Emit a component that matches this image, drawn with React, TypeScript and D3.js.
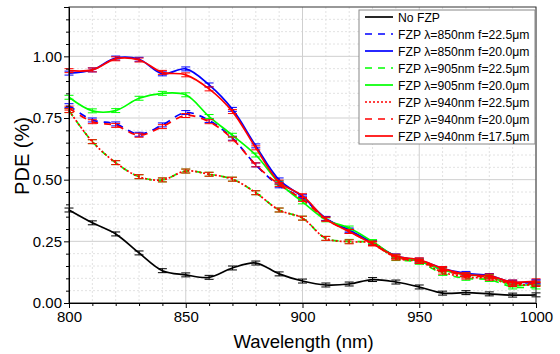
import * as d3 from "d3";
import { useEffect, useRef } from "react";

const wavelengths = [800, 810, 820, 830, 840, 850, 860, 870, 880, 890, 900, 910, 920, 930, 940, 950, 960, 970, 980, 990, 1000];

const noFzp = [0.377, 0.325, 0.28, 0.203, 0.131, 0.114, 0.104, 0.142, 0.162, 0.118, 0.089, 0.073, 0.077, 0.095, 0.085, 0.065, 0.04, 0.042, 0.037, 0.032, 0.033];
const fzp850f225 = [0.8, 0.742, 0.726, 0.684, 0.722, 0.772, 0.74, 0.668, 0.56, 0.475, 0.425, 0.342, 0.292, 0.242, 0.19, 0.17, 0.136, 0.116, 0.11, 0.082, 0.085];
const fzp850f200 = [0.932, 0.945, 0.993, 0.988, 0.929, 0.949, 0.884, 0.785, 0.637, 0.499, 0.431, 0.343, 0.296, 0.245, 0.19, 0.174, 0.14, 0.12, 0.111, 0.085, 0.086];
const fzp905f225 = [0.78, 0.654, 0.569, 0.512, 0.499, 0.535, 0.522, 0.502, 0.447, 0.377, 0.344, 0.262, 0.25, 0.243, 0.18, 0.165, 0.12, 0.1, 0.095, 0.065, 0.065];
const fzp905f200 = [0.834, 0.779, 0.78, 0.83, 0.85, 0.844, 0.756, 0.68, 0.6, 0.487, 0.41, 0.337, 0.304, 0.249, 0.188, 0.17, 0.134, 0.114, 0.107, 0.073, 0.078];
const fzp940f225 = [0.78, 0.654, 0.569, 0.512, 0.499, 0.535, 0.522, 0.502, 0.447, 0.377, 0.344, 0.262, 0.248, 0.243, 0.182, 0.168, 0.125, 0.105, 0.1, 0.075, 0.075];
const fzp940f200 = [0.79, 0.735, 0.72, 0.68, 0.715, 0.76, 0.735, 0.665, 0.56, 0.48, 0.42, 0.34, 0.29, 0.24, 0.186, 0.17, 0.135, 0.11, 0.105, 0.08, 0.08];
const fzp940f175 = [0.942, 0.945, 0.99, 0.985, 0.935, 0.925, 0.868, 0.776, 0.629, 0.49, 0.435, 0.34, 0.29, 0.24, 0.19, 0.175, 0.14, 0.115, 0.11, 0.085, 0.09];

const series = [
  { name: "No FZP", values: noFzp, color: "#000000", dash: "" },
  { name: "FZP λ=850nm f=22.5μm", values: fzp850f225, color: "#0000ff", dash: "7,6" },
  { name: "FZP λ=850nm f=20.0μm", values: fzp850f200, color: "#0000ff", dash: "" },
  { name: "FZP λ=905nm f=22.5μm", values: fzp905f225, color: "#00ff00", dash: "7,6" },
  { name: "FZP λ=905nm f=20.0μm", values: fzp905f200, color: "#00ff00", dash: "" },
  { name: "FZP λ=940nm f=22.5μm", values: fzp940f225, color: "#ff0000", dash: "2,2" },
  { name: "FZP λ=940nm f=20.0μm", values: fzp940f200, color: "#ff0000", dash: "7,6" },
  { name: "FZP λ=940nm f=17.5μm", values: fzp940f175, color: "#ff0000", dash: "" },
];

const yTicks = [0, 0.25, 0.5, 0.75, 1.0];
const xTicks = [800, 850, 900, 950, 1000];
const err = 0.008;

export default function App() {
  const svgRef = useRef<SVGSVGElement>(null);
  const w = 560;
  const h = 354;
  const margin = { top: 7, right: 24, bottom: 51, left: 69 };

  useEffect(() => {
    if (!svgRef.current) return;
    const innerW = w - margin.left - margin.right;
    const innerH = h - margin.top - margin.bottom;
    const x = d3.scaleLinear().domain([800, 1000]).range([0, innerW]);
    const y = d3.scaleLinear().domain([0, 1.2]).range([innerH, 0]);

    const svg = d3.select(svgRef.current);
    svg.selectAll("*").remove();
    const g = svg.append("g").attr("transform", `translate(${margin.left},${margin.top})`);
    const font = "Liberation Sans, Arial, sans-serif";
    const isMajorY = (v: number) => Math.abs(v / 0.25 - Math.round(v / 0.25)) < 1e-6;

    // grid
    d3.range(810, 1000, 10).filter((v) => v % 50 !== 0).forEach((v) => {
      g.append("line").attr("x1", x(v)).attr("x2", x(v)).attr("y1", 0).attr("y2", innerH)
        .attr("stroke", "#e2e2e2").attr("stroke-dasharray", "2,2");
    });
    d3.range(0.05, 1.2, 0.05).filter((v) => !isMajorY(v)).forEach((v) => {
      g.append("line").attr("x1", 0).attr("x2", innerW).attr("y1", y(v)).attr("y2", y(v))
        .attr("stroke", "#e2e2e2").attr("stroke-dasharray", "2,2");
    });
    xTicks.forEach((v) => {
      g.append("line").attr("x1", x(v)).attr("x2", x(v)).attr("y1", 0).attr("y2", innerH)
        .attr("stroke", "#cfcfcf");
    });
    yTicks.forEach((v) => {
      g.append("line").attr("x1", 0).attr("x2", innerW).attr("y1", y(v)).attr("y2", y(v))
        .attr("stroke", "#cfcfcf");
    });

    // series with error bars
    const line = d3.line<number>()
      .x((_, i) => x(wavelengths[i]))
      .y((d) => y(d))
      .curve(d3.curveCatmullRom.alpha(0.5));

    series.forEach((s) => {
      g.append("path").attr("d", line(s.values)).attr("fill", "none")
        .attr("stroke", s.color).attr("stroke-width", 1.7)
        .attr("stroke-dasharray", s.dash || null);
      s.values.forEach((v, i) => {
        const cx = x(wavelengths[i]);
        const eb = g.append("g").attr("stroke", s.color).attr("stroke-width", 1);
        eb.append("line").attr("x1", cx).attr("x2", cx).attr("y1", y(v + err)).attr("y2", y(v - err));
        eb.append("line").attr("x1", cx - 4.5).attr("x2", cx + 4.5).attr("y1", y(v + err)).attr("y2", y(v + err));
        eb.append("line").attr("x1", cx - 4.5).attr("x2", cx + 4.5).attr("y1", y(v - err)).attr("y2", y(v - err));
      });
    });

    // frame
    g.append("rect").attr("width", innerW).attr("height", innerH).attr("fill", "none")
      .attr("stroke", "#333").attr("stroke-width", 1);

    // axes
    const xAxis = g.append("g").attr("transform", `translate(0,${innerH})`)
      .call(d3.axisBottom(x).tickValues(xTicks).tickSize(5).tickFormat(d3.format("d")));
    g.append("g").attr("transform", `translate(0,${innerH})`)
      .call(d3.axisBottom(x).tickValues(d3.range(810, 1000, 10).filter((v) => v % 50 !== 0)).tickSize(3).tickFormat(() => ""))
      .select(".domain").remove();
    const yAxis = g.append("g")
      .call(d3.axisLeft(y).tickValues(yTicks).tickSize(5).tickFormat(d3.format(".2f")));
    g.append("g")
      .call(d3.axisLeft(y).tickValues(d3.range(0.05, 1.2, 0.05).filter((v) => !isMajorY(v))).tickSize(3).tickFormat(() => ""))
      .select(".domain").remove();
    [xAxis, yAxis].forEach((a) => {
      a.selectAll("text").attr("font-family", font).attr("font-size", 15).attr("fill", "#000");
      a.selectAll("line").attr("stroke", "#000");
      a.select(".domain").attr("stroke", "#000");
    });
    xAxis.selectAll("text").attr("y", 0).attr("dy", 0).attr("transform", "translate(0,19)");
    yAxis.selectAll("text").attr("x", -7);

    svg.append("text").attr("x", margin.left + innerW / 2 + 1).attr("y", 348)
      .attr("text-anchor", "middle").attr("font-family", font).attr("font-size", 18.5).text("Wavelength (nm)");
    svg.append("text").attr("transform", `translate(29,${margin.top + innerH / 2 + 1}) rotate(-90)`)
      .attr("text-anchor", "middle").attr("font-family", font).attr("font-size", 20).text("PDE (%)");

    // legend
    const lg = svg.append("g").attr("transform", "translate(359,10)");
    lg.append("rect").attr("width", 176).attr("height", 134).attr("fill", "#fff").attr("stroke", "#888");
    series.forEach((s, i) => {
      const ly = 7 + i * 17;
      lg.append("line").attr("x1", 6).attr("x2", 34).attr("y1", ly).attr("y2", ly)
        .attr("stroke", s.color).attr("stroke-width", 1.7).attr("stroke-dasharray", s.dash || null);
      lg.append("text").attr("x", 39).attr("y", ly + 4.5).attr("font-family", font).attr("font-size", 12.2)
        .text(s.name);
    });
  }, []);

  return (
    <svg ref={svgRef} width={w} height={h} viewBox={`0 0 ${w} ${h}`}
      style={{ position: "absolute", left: 0, top: 0, background: "#fff" }} />
  );
}
